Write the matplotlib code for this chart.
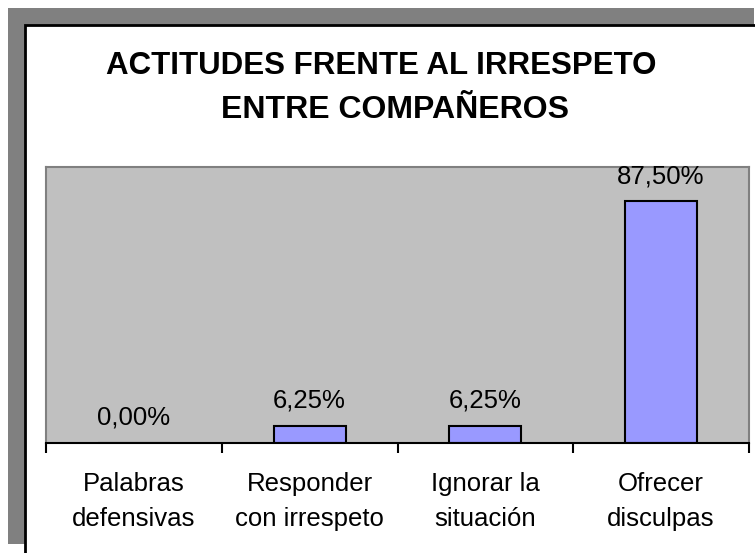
import matplotlib.pyplot as plt
from matplotlib.patches import Rectangle

plt.rcParams['font.family'] = ['Liberation Sans', 'DejaVu Sans']

categorias = ['Palabras\ndefensivas', 'Responder\ncon irrespeto', 'Ignorar la\nsituación', 'Ofrecer\ndisculpas']
valores = [0.0, 6.25, 6.25, 87.5]
etiquetas = ['0,00%', '6,25%', '6,25%', '87,50%']
titulo1 = 'ACTITUDES FRENTE AL IRRESPETO'
titulo2 = 'ENTRE COMPAÑEROS'

W, H = 755, 553
fig = plt.figure(figsize=(W / 100, H / 100), dpi=100)

def fx(px):
    return px / W

def fy(py):
    return (H - py) / H

# marco gris y area blanca con borde negro
fig.add_artist(Rectangle((fx(8), fy(544)), fx(754) - fx(8), fy(8) - fy(544),
                         transform=fig.transFigure, facecolor='#808080', edgecolor='none',
                         zorder=-3))
fig.add_artist(Rectangle((fx(25), fy(560)), fx(800) - fx(25), fy(25) - fy(560),
                         transform=fig.transFigure, facecolor='white', edgecolor='black', lw=2,
                         zorder=-2))

ax = fig.add_axes([fx(46), fy(443), fx(749) - fx(46), fy(167) - fy(443)])
ax.set_facecolor('#C0C0C0')
x = range(len(valores))
ax.bar(x, valores, width=0.41, color='#9999FF', edgecolor='black', lw=1.5)
ax.set_xlim(-0.5, 3.5)
ax.set_ylim(0, 100)

for i, v in enumerate(valores):
    ax.annotate(etiquetas[i], (i, v), xytext=(0, 13), textcoords='offset points',
                ha='center', va='baseline', fontsize=18.5)

ax.set_yticks([])
ax.set_xticks(list(x))
ax.set_xticklabels(categorias, fontsize=18.5, linespacing=1.55)
ax.tick_params(axis='x', which='major', length=0, pad=21)
ax.set_xticks([-0.5, 0.5, 1.5, 2.5, 3.5], minor=True)
ax.tick_params(axis='x', which='minor', length=7, width=1.5, color='black')

for s in ['left', 'top', 'right']:
    ax.spines[s].set_color('#808080')
    ax.spines[s].set_linewidth(1.5)
ax.spines['bottom'].set_color('black')
ax.spines['bottom'].set_linewidth(1.5)

fig.text(fx(381), fy(66), titulo1, ha='center', va='center', fontsize=22.5, fontweight='bold')
fig.text(fx(395), fy(110), titulo2, ha='center', va='center', fontsize=23, fontweight='bold')

fig.savefig('out.png', dpi=100)
